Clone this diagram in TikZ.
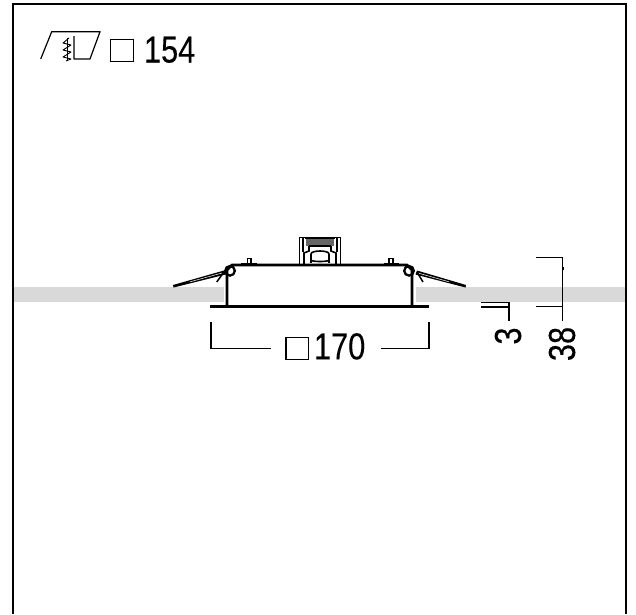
\documentclass[tikz,border=0pt]{standalone}
\usepackage{fontspec}
\setmainfont[FakeBold=0.25]{Liberation Sans}
\tikzset{
  dim/.style={line width=1.25pt,line cap=butt},
  thin part/.style={line width=1.2pt},
  body/.style={line width=2.8pt,line join=round},
  heavy/.style={line width=3.6pt},
  lbl/.style={inner sep=0pt,outer sep=0pt,font=\fontsize{37.5}{37.5}\selectfont},
}
\newcommand{\nar}[1]{\scalebox{.82}[1]{#1}}
\begin{document}
\begin{tikzpicture}[x=1pt,y=-1pt]
\useasboundingbox (0,0) rectangle (636,614);
\fill[white] (0,0) rectangle (636,614);
% ceiling band
\fill[black!15] (13,287) rectangle (224,302);
\fill[black!15] (416,287) rectangle (625,302);
% frame
\draw[line width=2pt] (13.3,614) -- (13.3,3.5) -- (625.5,3.5) -- (625.5,614);
% body
\draw[body] (227,306) -- (227,270) -- (232,265) -- (407,265) -- (412,270) -- (412,306);
\draw[heavy] (210,306.3) -- (429,306.3);
\draw[line width=2.3pt] (230,270.8) circle (4.8);
\draw[line width=2.3pt] (409,270.8) circle (4.8);
% springs
\fill (173,285) -- (224,270.5) -- (225.5,274.5) -- (173.5,287.5) -- cycle;
\draw[white,line width=.5pt] (190,281.8) -- (222,273);
\draw[line width=1.5pt] (216.7,282) -- (224,272);
\fill (466,285) -- (417,270.5) -- (415.5,274.5) -- (465.5,287.5) -- cycle;
\draw[white,line width=.5pt] (449,281.8) -- (418,273);
\draw[line width=1.5pt] (423,282) -- (417,272);
% small bumps
\draw[line width=2.2pt] (241,264) -- (257,264);
\draw[line width=1.2pt] (247.5,263.5) -- (247.5,258.5) -- (251,258.5) -- (251,263.5);
\draw[line width=2.2pt] (383.5,264) -- (399,264);
\draw[line width=1.2pt] (389,263.5) -- (389,258.5) -- (393,258.5) -- (393,263.5);
% clip
\draw[thin part] (299.5,264) -- (299.5,237.5) -- (340.5,237.5) -- (340.5,264);
\draw[line width=1.6pt] (304,264) -- (304,253) -- (309,251) -- (309,241);
\draw[line width=1.6pt] (303,237.5) -- (303,252);
\draw[line width=1.6pt] (336,264) -- (336,253) -- (331,251) -- (331,241);
\draw[line width=1.6pt] (337,237.5) -- (337,252);
\fill[black!60] (306,238) rectangle (334,246);
\draw[line width=1.6pt] (305,238) -- (335,238);
\draw[line width=1.6pt] (309,246) -- (331,246);
\draw[line width=1.6pt] (311,254) .. controls (311,250) and (329,250) .. (329,254) -- (329,260) .. controls (329,262) and (311,262) .. (311,260) -- cycle;
\draw[line width=1.3pt] (311,263) -- (311,258);
\draw[line width=1.3pt] (329,263) -- (329,258);
% dimension 3
\coordinate (d3a) at (481,302.7);
\coordinate (d3b) at (481,307);
\coordinate (d3c) at (509,302.7);
\coordinate (d3d) at (509,321);
\coordinate (d3e) at (509,307);
\draw[dim] (d3a) -- (d3c) -- (d3d);
\draw[dim] (d3b) -- (d3e);
\node[lbl,rotate=90] (t3) at (508,336) {\nar{3}};
% dimension 38
\coordinate (d38a) at (535.7,257.7);
\coordinate (d38b) at (562.7,257.7);
\coordinate (d38c) at (562.7,321);
\coordinate (d38d) at (535.7,306.7);
\coordinate (d38e) at (562.7,306.7);
\draw[dim] (d38a) -- (d38b) -- (d38c);
\draw[dim] (d38d) -- (d38e);
\draw[line width=2pt] (562.7,266.5) -- (562.7,270);
\node[lbl,rotate=90] (t38) at (562,344) {\nar{38}};
% dimension 170
\coordinate (d170a) at (211,321.7);
\coordinate (d170b) at (211,348.3);
\coordinate (d170c) at (270.7,348.3);
\coordinate (d170d) at (381,348.3);
\coordinate (d170e) at (429,348.3);
\coordinate (d170f) at (429,321.7);
\draw[dim] (d170a) -- (d170b) -- (d170c);
\draw[dim] (d170d) -- (d170e) -- (d170f);
\draw[line width=1.2pt] (286,337.3) rectangle (308.7,359.3);
\node[lbl,anchor=base west] (t170) at (314,359.3) {\nar{170}};
% icon
\draw[line width=1.2pt,line join=round] (40.7,59) -- (51.7,31.7) -- (100,31.7) -- (90,59) -- (74,59) -- (74,36);
\draw[line width=.9pt,line join=round] (69,38) -- (63,43) -- (71,45) -- (63,50) -- (71,52) -- (63,57) -- (71,59) -- (66,61);
\draw[line width=.9pt] (67.5,38) -- (67.5,60);
% square 154
\draw[line width=1.2pt] (110.7,39.3) rectangle (133.3,61.7);
\node[lbl,anchor=base west] (t154) at (144,62.5) {\nar{154}};
\end{tikzpicture}
\end{document}
